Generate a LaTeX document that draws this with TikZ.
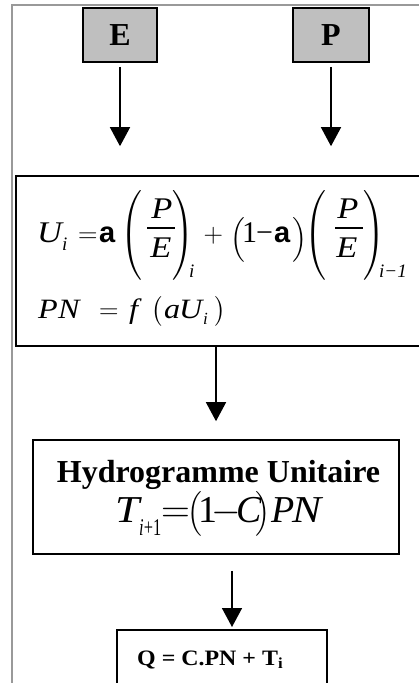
\RequirePackage{fix-cm}
\documentclass[tikz,border=0pt]{standalone}
\usepackage{amsmath}
\usepackage{fontspec}
\setmainfont{Liberation Serif}
\setsansfont{Liberation Sans}
\usepackage{graphicx}
\usetikzlibrary{arrows.meta,calc}
\newcommand\fs[2]{\fontsize{#1}{#2}\selectfont}
\newcommand\wx[1]{\scalebox{1.15}[1]{#1}}
\begin{document}
\begin{tikzpicture}[x=1pt,y=-1pt,
  box/.style={draw=black,line width=1.6pt,inner sep=0pt},
  inbox/.style={box,fill=black!25,minimum height=54pt},
  txt/.style={inner sep=0pt,anchor=base west},
  dl/.style={inner sep=0pt,anchor=center},
  fbar/.style={line width=1.3pt},
  arr/.style={line width=1.5pt,-{Triangle[length=19pt,width=20pt]}},
  frame/.style={draw=black!40,line width=2.2pt}]
\useasboundingbox (0,0) rectangle (418,683);
\draw[frame] (12,690) -- (12,5) -- (430,5);
% inputs
\node[inbox,minimum width=74pt] (E) at (120,35) {\fs{32}{36}\bfseries E};
\node[inbox,minimum width=76pt] (P) at (331,35) {\fs{32}{36}\bfseries P};
% main box
\node[box,minimum width=414pt,minimum height=170pt] (M) at (223,261) {};
% line 1
\node[txt] (a01) at (37,242) {\fs{30}{36}\itshape\wx{U}};
\node[txt] (a02) at (62,250) {\fs{19}{23}\itshape i};
\node[txt] (a03) at (78,242) {\fs{27}{32}$=$};
\node[txt] (a04) at (99,242) {\fs{29}{35}\sffamily\bfseries a};
\node[dl]  (a05) at (131.5,235.5) {\fs{29}{35}$\Biggl($};
\node[inner sep=0pt,anchor=base] (a06) at (162,218) {\fs{30}{36}\itshape\wx{P}};
\node[inner sep=0pt,anchor=base] (a07) at (161,257) {\fs{30}{36}\itshape\wx{E}};
\draw[fbar] (147,228) -- (175,228);
\node[dl]  (a08) at (183.5,235.5) {\fs{29}{35}$\Biggr)$};
\node[txt] (a09) at (189,277) {\fs{19}{23}\itshape i};
\node[txt] (a10) at (203.5,242) {\fs{27}{32}$+$};
\node[dl]  (a11) at (237.5,239.5) {\fs{29}{35}$\bigl($};
\node[txt] (a12) at (242,242) {\fs{30}{36}1};
\node[txt] (a13) at (256,242) {\fs{30}{36}−};
\node[txt] (a14) at (274,242) {\fs{29}{35}\sffamily\bfseries a};
\node[dl]  (a15) at (300,239.5) {\fs{29}{35}$\bigr)$};
\node[dl]  (a16) at (315,235.5) {\fs{29}{35}$\Biggl($};
\node[inner sep=0pt,anchor=base] (a17) at (348,218) {\fs{30}{36}\itshape\wx{P}};
\node[inner sep=0pt,anchor=base] (a18) at (347,257) {\fs{30}{36}\itshape\wx{E}};
\draw[fbar] (335,228) -- (363,228);
\node[dl]  (a19) at (374.5,235.5) {\fs{29}{35}$\Biggr)$};
\node[txt] (a20) at (379,277) {\fs{19}{23}\itshape i−1};
% line 2
\node[txt] (b01) at (38,318) {\fs{28}{33}\itshape\wx{P}};
\node[txt] (b02) at (58,318) {\fs{28}{33}\itshape\wx{N}};
\node[txt] (b03) at (99,318) {\fs{27}{32}$=$};
\node[txt] (b04) at (129,318) {\fs{28}{33}\itshape\wx{f}};
\node[dl]  (b05) at (157,311.5) {\fs{27}{32}$\bigl($};
\node[txt] (b06) at (164,318) {\fs{28}{33}\itshape\wx{a}};
\node[txt] (b07) at (179,318) {\fs{28}{33}\itshape\wx{U}};
\node[txt] (b08) at (203,324) {\fs{17}{20}\itshape i};
\node[dl]  (b09) at (220,311.5) {\fs{27}{32}$\bigr)$};
% hydrogramme box
\node[box,minimum width=366pt,minimum height=114pt] (H) at (216,497) {};
\node[inner sep=0pt,anchor=base] (h1) at (218.5,482) {\fs{32}{36}\bfseries Hydrogramme Unitaire};
\node[txt] (c01) at (115,522) {\fs{38}{46}\itshape\wx{T}};
\node[txt] (c02) at (139,535) {\resizebox{22pt}{\height}{\fs{24}{28}\itshape i\upshape +1}};
\node[txt] (c03) at (161,522) {\fs{40}{48}$=$};
\node[dl]  (c04) at (195,513.5) {\fs{38}{46}$\bigl($};
\node[txt] (c05) at (198,522) {\fs{38}{46}1};
\node[txt] (c06) at (211,522) {\fs{38}{46}$-$};
\node[txt] (c07) at (236,522) {\fs{38}{46}\itshape C};
\node[dl]  (c08) at (263,513.5) {\fs{38}{46}$\bigr)$};
\node[txt] (c09) at (271,522) {\fs{38}{46}\itshape P};
\node[txt] (c10) at (292,522) {\fs{38}{46}\itshape\wx{N}};
% output box
\node[box,minimum width=210pt,minimum height=90pt,anchor=north west] (Q) at (116,629) {};
\node[txt] (q1) at (137,665) {\resizebox{146pt}{\height}{\fs{22}{26}\bfseries Q = C.PN + T\textsubscript{i}}};
% connectors
\draw[arr] ([yshift=-4pt]E.south) -- ($(E.south |- M.north)+(0,-29)$);
\draw[arr] ([yshift=-4pt]P.south) -- ($(P.south |- M.north)+(0,-29)$);
\draw[arr] (H.north |- M.south) -- ($(H.north)+(0,-18)$);
\draw[arr] ($(H.south)+(16,16)$) -- ($(H.south |- Q.north)+(16,-2)$);
\end{tikzpicture}
\end{document}
